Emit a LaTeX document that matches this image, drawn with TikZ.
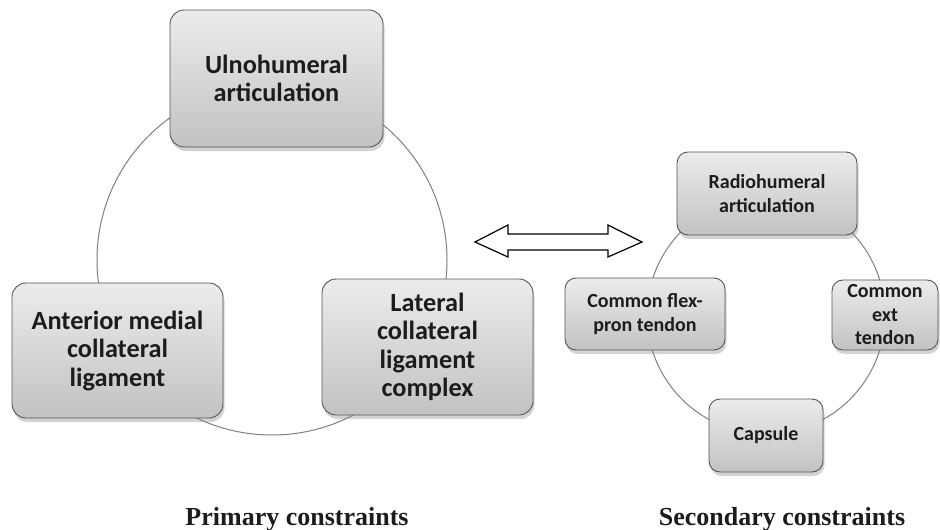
\documentclass[tikz,border=0pt]{standalone}
\usepackage{fontspec}
\setmainfont{Liberation Serif}
\newfontfamily\boxfont{Carlito}
\usetikzlibrary{shadows}
\definecolor{boxtop}{HTML}{ECECEC}
\definecolor{boxbot}{HTML}{C2C2C2}
\definecolor{boxline}{HTML}{555555}
\definecolor{txt}{HTML}{1C1C1C}
\begin{document}
\begin{tikzpicture}[x=1pt,y=-1pt,
  cbox/.style={rounded corners=14pt, draw=boxline, line width=0.9pt,
    top color=boxtop, bottom color=boxbot,
    drop shadow={shadow xshift=1.5pt, shadow yshift=-4pt, opacity=0.35},
    align=center, text=txt, inner sep=0pt},
  bigbox/.style={cbox, font=\boxfont\bfseries\fontsize{26.3}{28.5}\selectfont},
  smallbox/.style={cbox, rounded corners=11pt, font=\boxfont\bfseries\fontsize{20}{23.5}\selectfont},
  ring/.style={draw=black!50, line width=1pt},
  caption/.style={font=\bfseries\fontsize{26}{30}\selectfont, text=txt, anchor=base, inner sep=0pt}]
\useasboundingbox (0,0) rectangle (940,530);
% rings
\draw[ring] (272,260) circle[radius=175];
\draw[ring] (766,315) circle[radius=119];
% primary boxes
\node[bigbox, minimum width=213pt, minimum height=137pt] (ulno) at (276.5,78.5) {Ulnohumeral\\articulation};
\node[bigbox, minimum width=211pt, minimum height=135pt] (amcl) at (117.5,350.5) {Anterior medial\\collateral\\ligament};
\node[bigbox, minimum width=211pt, minimum height=136pt] (lclc) at (427.5,347) {Lateral\\collateral\\ligament\\complex};
% secondary boxes
\node[smallbox, minimum width=180pt, minimum height=83pt] (radio) at (767,193.5) {Radiohumeral\\articulation};
\node[smallbox, minimum width=160pt, minimum height=72pt] (flex) at (645,314) {Common flex-\\pron tendon};
\node[smallbox, minimum width=106pt, minimum height=70pt] (ext) at (885,315) {Common\\ext\\tendon};
\node[smallbox, minimum width=114pt, minimum height=73pt] (caps) at (766,435.5) {Capsule};
% double arrow
\draw[line width=1.2pt, fill=white, line join=miter]
  (475,242) -- (508,225) -- (508,234) -- (608,234) -- (608,225) -- (642,242)
  -- (608,257) -- (608,250) -- (508,250) -- (508,257) -- cycle;
% captions
\node[caption] (prim) at (297,525) {Primary constraints};
\node[caption] (sec) at (782,525) {Secondary constraints};
\end{tikzpicture}
\end{document}
